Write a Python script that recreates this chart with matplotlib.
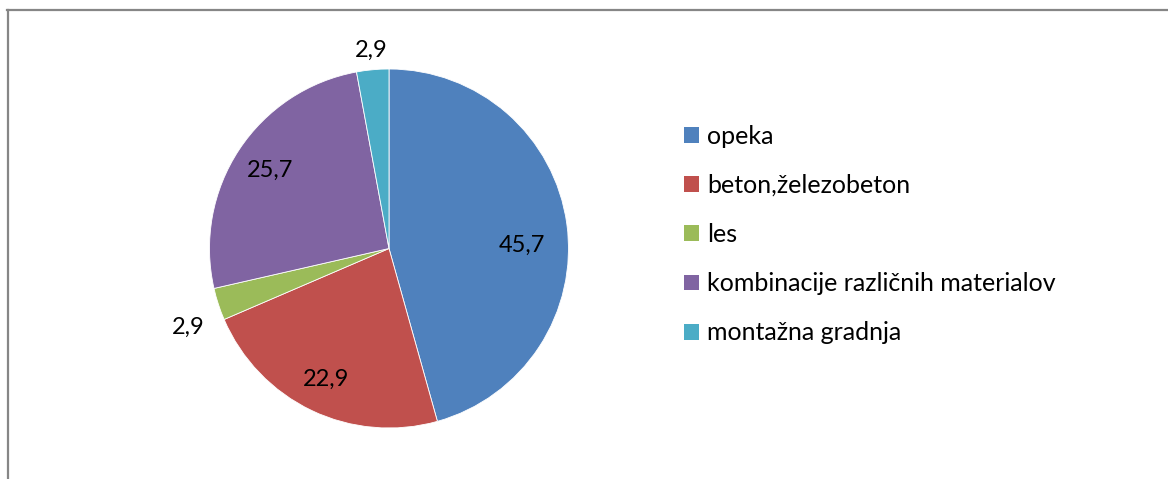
import numpy as np
import matplotlib.pyplot as plt
from matplotlib.patches import Patch
from matplotlib.lines import Line2D

labels = ['opeka', 'beton,železobeton', 'les', 'kombinacije različnih materialov', 'montažna gradnja']
values = [45.7, 22.9, 2.9, 25.7, 2.9]
value_text = ['45,7', '22,9', '2,9', '25,7', '2,9']
colors = ['#4F81BD', '#C0504D', '#9BBB59', '#8064A2', '#4BACC6']

# label placement (fraction of radius, angle nudge in degrees)
lab_r = [0.74, 0.81, 1.2, 0.79, 1.11]
lab_nudge = [-6.5, 0, 3.5, 0, 0]

W, H = 1168, 479
plt.rcParams['font.family'] = ['Lato', 'DejaVu Sans']

fig = plt.figure(figsize=(W / 100, H / 100), dpi=100)
ax = fig.add_axes([0, 0, 1, 1])

cx, cy, R = 389, H - 248.5, 179.5
wedges, _ = ax.pie(values, colors=colors, startangle=90, counterclock=False,
                   center=(cx, cy), radius=R,
                   wedgeprops=dict(edgecolor='white', linewidth=0.6))

for w, t, fr, nd in zip(wedges, value_text, lab_r, lab_nudge):
    ang = np.deg2rad((w.theta1 + w.theta2) / 2 + nd)
    ax.text(cx + fr * R * np.cos(ang), cy + fr * R * np.sin(ang), t,
            ha='center', va='center', fontsize=17, color='black')

ax.set_xlim(0, W)
ax.set_ylim(0, H)
ax.set_aspect('equal')
ax.axis('off')

handles = [Patch(facecolor=c, edgecolor='none') for c in colors]
fig.legend(handles, labels, loc='center left', bbox_to_anchor=(684 / W, 1 - 234.5 / H),
           frameon=False, fontsize=18, borderpad=0, handlelength=0.6, handleheight=0.6,
           handletextpad=0.32, labelspacing=1.05, borderaxespad=0)

# chart frame (only top and left edges are inside the picture)
fig.add_artist(Line2D([7 / W, 1], [1 - 9.5 / H, 1 - 9.5 / H], color='#868686', lw=1.6))
fig.add_artist(Line2D([8 / W, 8 / W], [0, 1 - 9.5 / H], color='#868686', lw=1.6))

fig.savefig('out.png', dpi=100, facecolor='white')
